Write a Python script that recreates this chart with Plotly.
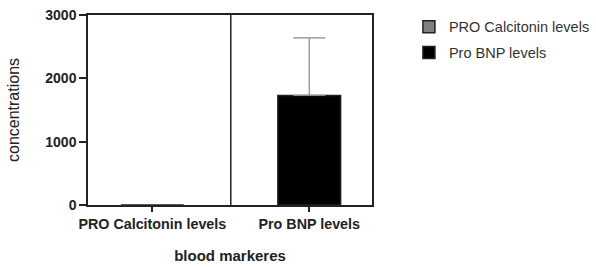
import plotly.graph_objects as go

categories = ["PRO Calcitonin levels", "Pro BNP levels"]
series_names = ["PRO Calcitonin levels", "Pro BNP levels"]
means = [0, 1730]
errors_plus = [0, 910]
bar_colors = ["#808080", "#000000"]
y_ticks = [0, 1000, 2000, 3000]

fig = go.Figure()
for i, name in enumerate(series_names):
    fig.add_trace(go.Bar(
        x=[categories[i]], y=[means[i]], name=name,
        marker=dict(color=bar_colors[i], line=dict(color="#222222", width=1.5)),
        width=0.4,
        legendgroup=name,
        error_y=dict(type="data", array=[errors_plus[i]], arrayminus=[0], symmetric=False,
                     color="#8a8a8a", thickness=1.2, width=16, visible=errors_plus[i] > 0),
    ))

fig.add_shape(type="line", xref="x", yref="paper", x0=0.5, x1=0.5, y0=0, y1=1,
              line=dict(color="#222222", width=1.5))

font_family = "Liberation Sans, Arial, sans-serif"
fig.update_layout(
    width=596, height=267,
    margin=dict(l=88, r=224, t=15, b=62, autoexpand=False),
    plot_bgcolor="white", paper_bgcolor="white",
    font=dict(family=font_family, color="#222222"),
    barmode="overlay",
    showlegend=True,
    legend=dict(x=1.130, y=1.022, xanchor="left", yanchor="top",
                font=dict(size=14.5, color="#333333"),
                traceorder="grouped", tracegroupgap=4,
                itemwidth=30),
    xaxis=dict(range=[-0.41, 1.40], showline=True, linecolor="#222222", linewidth=1.5,
               mirror=True, ticks="outside", ticklen=5, tickcolor="#222222", tickwidth=1.5,
               tickfont=dict(size=14.3, color="#222222", weight="bold"),
               title=dict(text="<b>blood markeres</b>", font=dict(size=15, color="#222222"), standoff=20),
               showgrid=False, automargin=False),
    yaxis=dict(range=[0, 3000], tickvals=y_ticks, showline=True, linecolor="#222222", linewidth=1.5,
               mirror=True, ticks="outside", ticklen=7, tickcolor="#222222", tickwidth=1.5,
               tickfont=dict(size=14, color="#222222", weight="bold"),
               title=dict(text="concentrations", font=dict(size=16, color="#222222"), standoff=22),
               showgrid=False, zeroline=False, automargin=False),
)

fig.write_html("out.html", post_script="document.body.style.margin='0';",
               config={"displayModeBar": False})
